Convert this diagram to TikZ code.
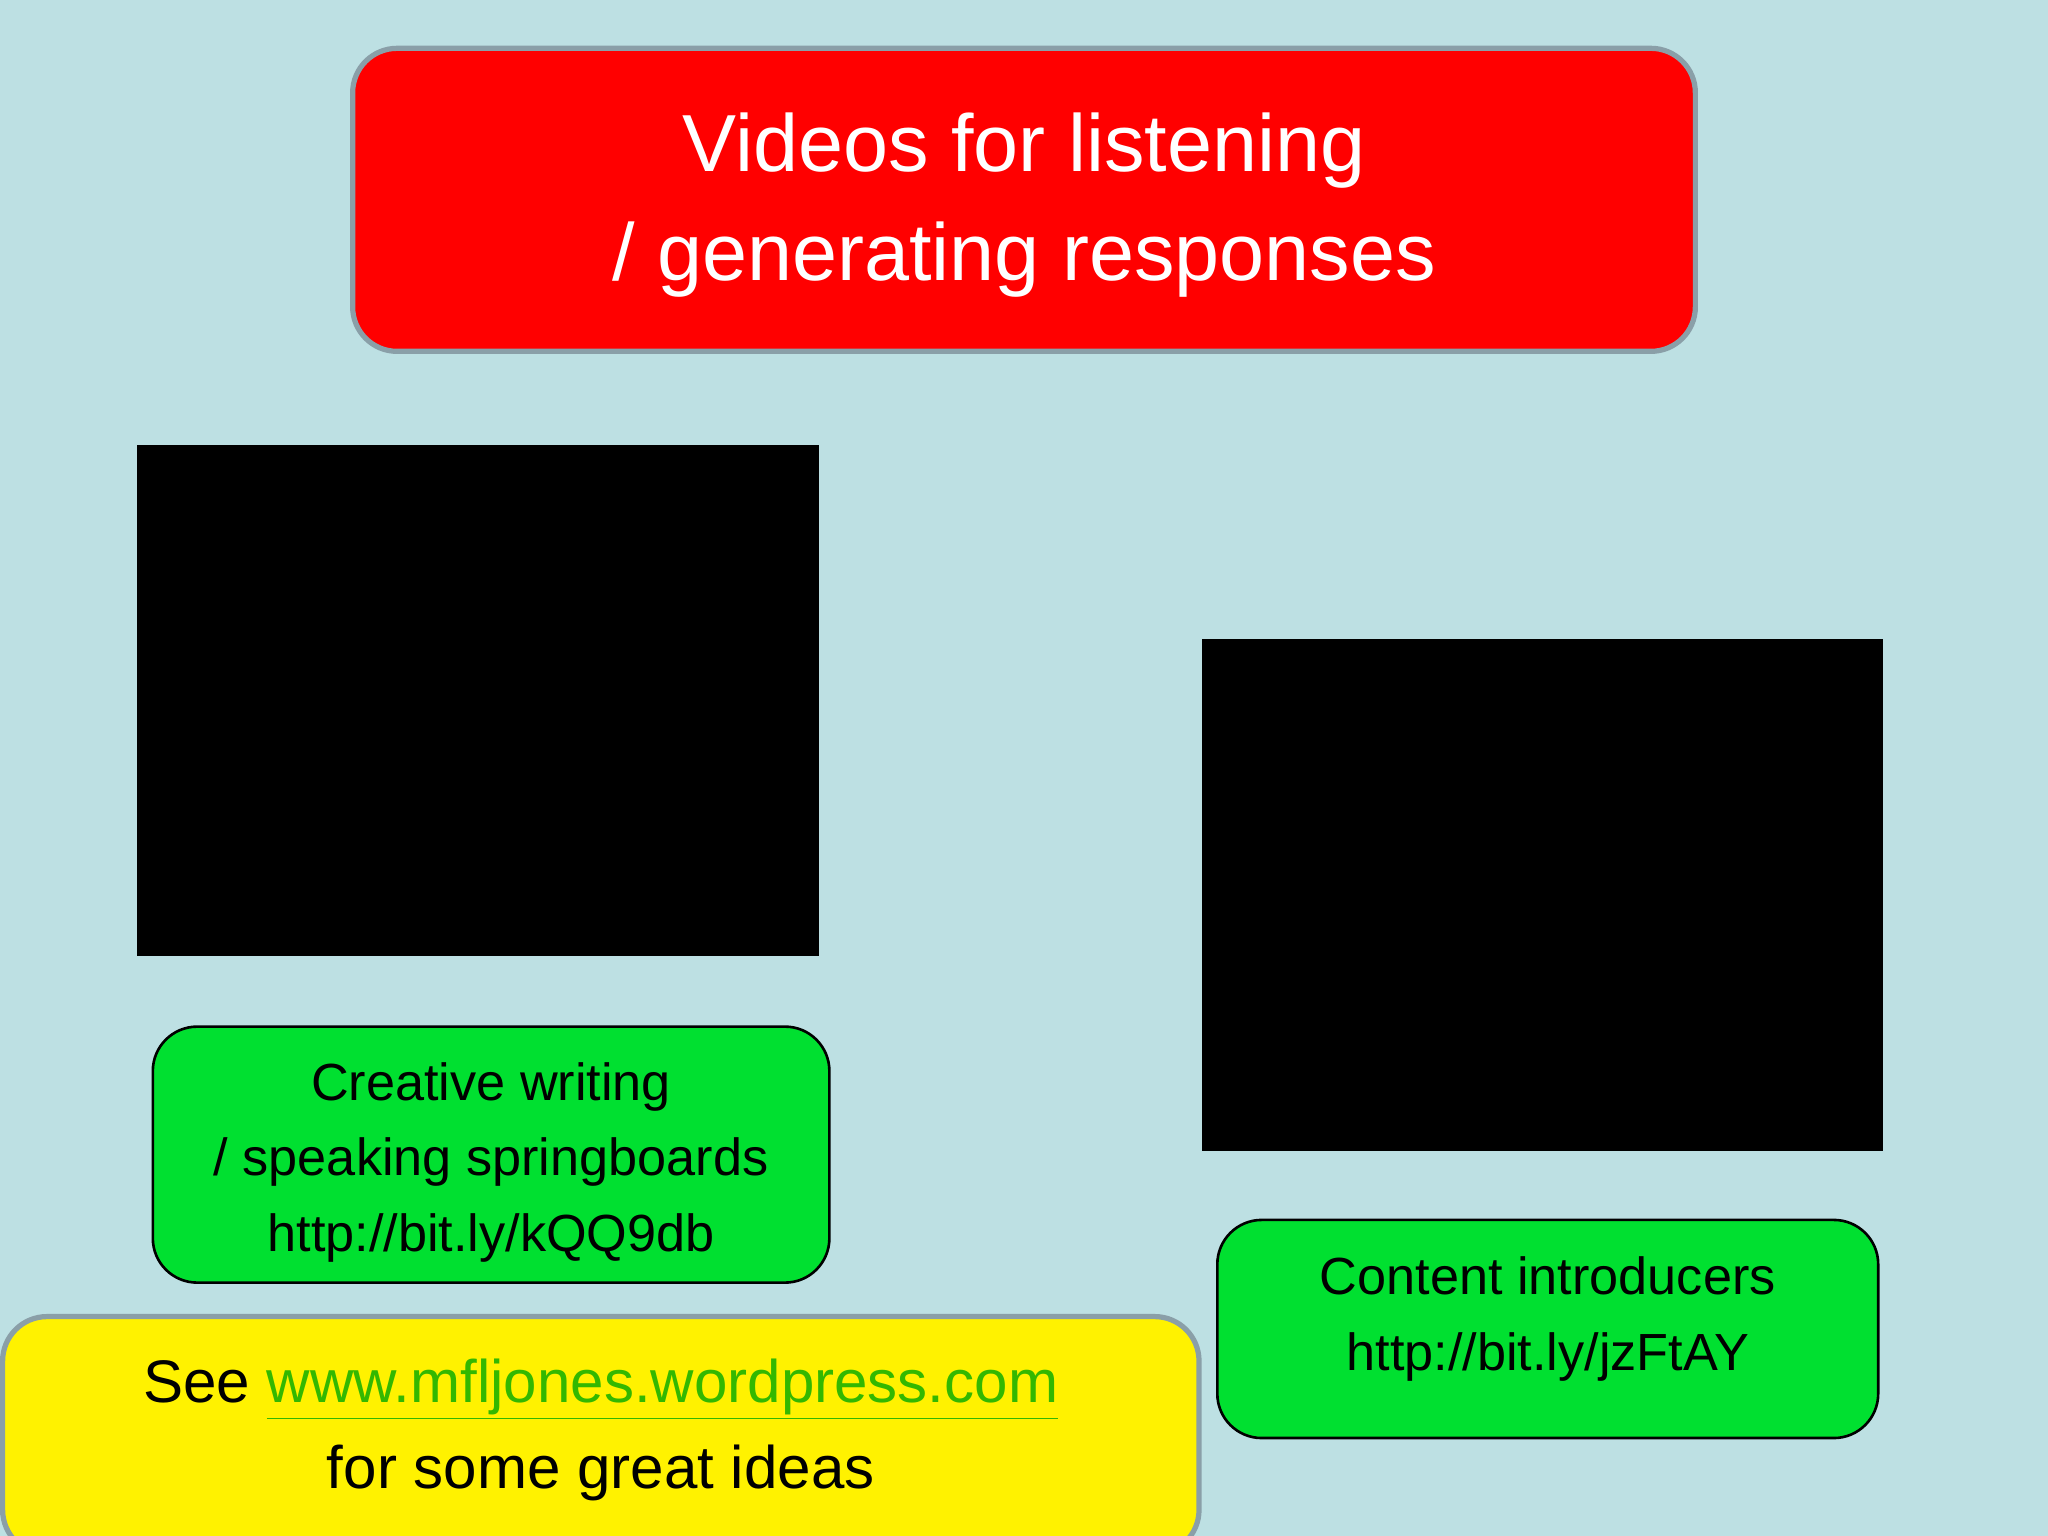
\documentclass[tikz,border=0pt]{standalone}
\usepackage{fontspec}
\setmainfont{Liberation Sans}
\definecolor{bg}{HTML}{BDE0E3}
\definecolor{gbox}{HTML}{00E030}
\definecolor{rim}{HTML}{8A9FA8}
\definecolor{lnk}{HTML}{33B800}
\begin{document}
\begin{tikzpicture}[x=0.5pt,y=-0.5pt,
  box/.style={rounded corners=17pt},
  txt/.style={align=center,font=\fontsize{20}{29}\selectfont}]
\fill[bg] (0,0) rectangle (1568,1176);
\useasboundingbox (0,0) rectangle (1568,1176);
\draw[box,fill=red,draw=rim,line width=2pt] (270,37) rectangle (1298,269);
\node[align=center,text=white,font=\fontsize{31}{42}\selectfont] (title) at (784,157) {Videos for listening\\/ generating responses};
\fill[black] (105,341) rectangle (627,732);
\fill[black] (920,489) rectangle (1442,881);
\draw[box,fill=gbox,draw=black,line width=1pt] (117,786) rectangle (635,982);
\node[txt] (g1) at (376,890) {Creative writing\\/ speaking springboards\\http://bit.ly/kQQ9db};
\draw[box,fill=gbox,draw=black,line width=1pt] (932,934) rectangle (1438,1101);
\node[txt] (g2) at (1185,1010) {Content introducers\\http://bit.ly/jzFtAY};
\draw[box,fill=yellow,draw=rim,line width=2pt] (2,1008) rectangle (918,1190);
\node[align=center,font=\fontsize{23}{33}\selectfont] (y) at (460,1095) {See \textcolor{lnk}{\underline{www.mfljones.wordpress.com}}\\for some great ideas};
\end{tikzpicture}
\end{document}
